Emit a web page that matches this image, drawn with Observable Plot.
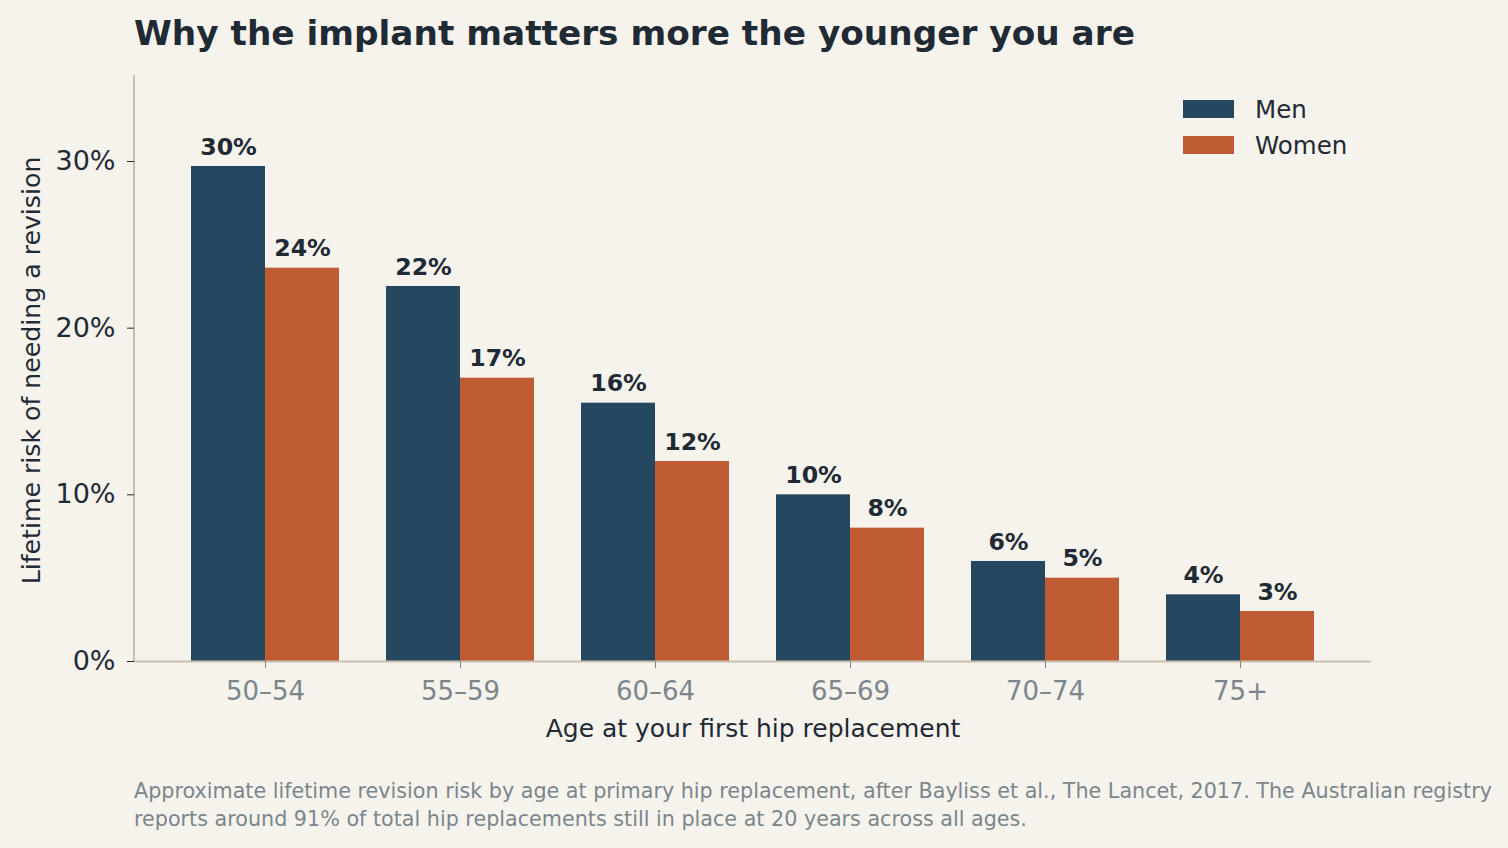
<!DOCTYPE html>
<html>
<head>
<meta charset="utf-8">
<script src="https://cdn.jsdelivr.net/npm/d3@7"></script>
<script src="https://cdn.jsdelivr.net/npm/@observablehq/plot@0.6"></script>
<style>
  html, body { margin: 0; padding: 0; background: #f6f3ed; }
  #wrap { position: relative; width: 1508px; height: 848px; background: #f6f3ed; font-family: "DejaVu Sans", sans-serif; overflow: hidden; }
  #chart { position: absolute; left: 0; top: 0; }
  #title { position: absolute; left: 134px; top: 13px; font-size: 34.3px; font-weight: bold; color: #1f2a35; white-space: nowrap; }
  #legend { position: absolute; left: 1183px; top: 91px; font-size: 24.5px; color: #1f2a35; }
  .row { display: flex; align-items: center; height: 36px; }
  .sw { width: 51px; height: 18px; margin-right: 21px; }
  #caption { position: absolute; left: 134px; top: 777px; font-size: 20.7px; line-height: 28px; color: #7b868c; width: 1420px; white-space: nowrap; }
</style>
</head>
<body>
<div id="wrap">
  <div id="chart"></div>
  <div id="title">Why the implant matters more the younger you are</div>
  <div id="legend"></div>
  <div id="caption">Approximate lifetime revision risk by age at primary hip replacement, after Bayliss et al., The Lancet, 2017. The Australian registry<br>reports around 91% of total hip replacements still in place at 20 years across all ages.</div>
</div>
<script>
const ages = ["50–54", "55–59", "60–64", "65–69", "70–74", "75+"];
const men = [29.7, 22.5, 15.5, 10.0, 6.0, 4.0];
const women = [23.6, 17.0, 12.0, 8.0, 5.0, 3.0];
const series = ["Men", "Women"];
const colors = ["#25475f", "#bf5b32"];
const yTicks = [0, 10, 20, 30];

const menData = ages.map((a, i) => ({age: a, value: men[i]}));
const womenData = ages.map((a, i) => ({age: a, value: women[i]}));

function roundHalfEven(v) {
  const f = Math.floor(v);
  const diff = v - f;
  if (Math.abs(diff - 0.5) < 1e-9) return f % 2 === 0 ? f : f + 1;
  return Math.round(v);
}
const fmt = v => roundHalfEven(v) + "%";

const ink = "#1f2a35";
const gray = "#7b868c";
const spine = "#c9bfae";

const yAxisLine = (index, scales, values, dims) => {
  const g = d3.create("svg:g");
  g.append("line")
    .attr("x1", dims.marginLeft).attr("x2", dims.marginLeft)
    .attr("y1", dims.marginTop).attr("y2", dims.height - dims.marginBottom)
    .attr("stroke", spine).attr("stroke-width", 2);
  return g.node();
};

const chart = Plot.plot({
  width: 1508,
  height: 848,
  marginLeft: 134,
  marginRight: 137,
  marginTop: 75,
  marginBottom: 187,
  style: { background: "transparent", fontFamily: "DejaVu Sans, sans-serif" },
  x: { type: "band", domain: ages, paddingInner: 0.242, paddingOuter: 0.287 },
  y: { domain: [0, 35.16] },
  marks: [
    Plot.barY(menData, { x: "age", y: "value", fill: colors[0], insetRight: 74 }),
    Plot.barY(womenData, { x: "age", y: "value", fill: colors[1], insetLeft: 74 }),
    Plot.ruleY([0], { stroke: spine, strokeWidth: 2 }),
    yAxisLine,
    Plot.text(menData, { x: "age", y: "value", text: d => fmt(d.value), dx: -37, dy: -12, lineAnchor: "bottom", fontWeight: "bold", fontSize: 23.7, fill: ink }),
    Plot.text(womenData, { x: "age", y: "value", text: d => fmt(d.value), dx: 37, dy: -12, lineAnchor: "bottom", fontWeight: "bold", fontSize: 23.7, fill: ink }),
    Plot.axisY({ ticks: yTicks, tickFormat: d => d + "%", tickSize: 7, tickPadding: 12, fontSize: 27, color: ink, label: null }),
    Plot.text(["Lifetime risk of needing a revision"], { frameAnchor: "left", textAnchor: "middle", rotate: -90, dx: -103, dy: 2, fontSize: 25.2, fill: ink }),
    Plot.axisX({ tickSize: 7, tickPadding: 13, fontSize: 26, color: gray, label: null }),
    Plot.text(["Age at your first hip replacement"], { frameAnchor: "bottom", dy: 75, fontSize: 25, fill: ink })
  ]
});
document.getElementById("chart").appendChild(chart);

const legend = document.getElementById("legend");
series.forEach((s, i) => {
  const row = document.createElement("div");
  row.className = "row";
  const sw = document.createElement("div");
  sw.className = "sw";
  sw.style.background = colors[i];
  const lab = document.createElement("span");
  lab.textContent = s;
  row.appendChild(sw);
  row.appendChild(lab);
  legend.appendChild(row);
});
</script>
</body>
</html>
